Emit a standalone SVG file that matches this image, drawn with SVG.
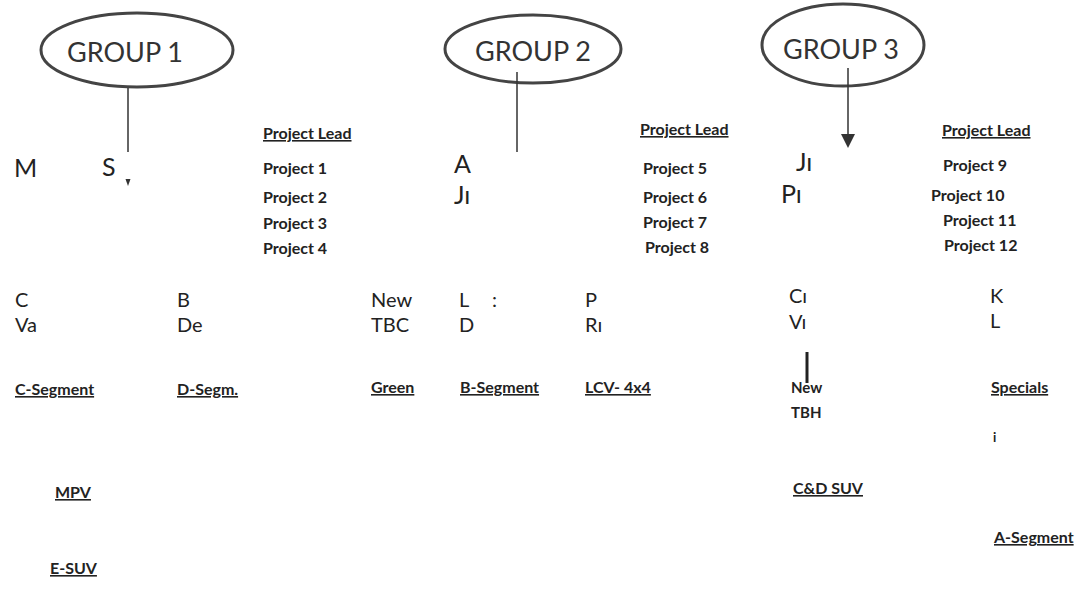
<svg xmlns="http://www.w3.org/2000/svg" width="1082" height="598" viewBox="0 0 1082 598">
<style>
.grp{font-family:Lato,"Liberation Sans",sans-serif;font-size:27px;fill:#333}
.oval{fill:none;stroke:#444;stroke-width:3}
.big{font-family:Lato,"Liberation Sans",sans-serif;font-size:25px;fill:#222}
.mid{font-family:Lato,"Liberation Sans",sans-serif;font-size:20px;fill:#222}
.pl{font-family:Lato,"Liberation Sans",sans-serif;font-size:16px;font-weight:bold;fill:#222}
.ul{text-decoration:underline}
.seg{font-family:Lato,"Liberation Sans",sans-serif;font-size:16px;font-weight:bold;fill:#222;text-decoration:underline}
.sm{font-family:Lato,"Liberation Sans",sans-serif;font-size:15px;font-weight:bold;fill:#222}
.ln{stroke:#333;stroke-width:1.5;fill:none}
</style>
<rect width="1082" height="598" fill="#fff"/>
<g id="group1">
<ellipse class="oval" cx="137" cy="50" rx="96" ry="37"/>
<text class="grp" x="67" y="62">GROUP 1</text>
</g>
<g id="group2">
<ellipse class="oval" cx="533" cy="49" rx="88" ry="34"/>
<text class="grp" x="475" y="61">GROUP 2</text>
</g>
<g id="group3">
<ellipse class="oval" cx="843" cy="45" rx="81" ry="41"/>
<text class="grp" x="783" y="59">GROUP 3</text>
</g>
<g id="connectors">
<line class="ln" x1="128" y1="88" x2="128" y2="152"/>
<polygon points="125.5,179 130.5,179 128,186" fill="#333"/>
<line class="ln" x1="517" y1="72" x2="517" y2="152"/>
<line class="ln" x1="848" y1="68" x2="848" y2="137"/>
<polygon points="841,134 855,134 848,148" fill="#333"/>
<line x1="807" y1="352" x2="807" y2="383" stroke="#222" stroke-width="3"/>
</g>
<g id="names1">
<text class="big" x="14" y="177">M</text>
<text class="big" x="102" y="176">S</text>
</g>
<g id="leads1">
<text class="pl ul" x="263" y="139">Project Lead</text>
<text class="pl" x="263" y="174">Project 1</text>
<text class="pl" x="263" y="203">Project 2</text>
<text class="pl" x="263" y="229">Project 3</text>
<text class="pl" x="263" y="254">Project 4</text>
</g>
<g id="names2">
<text class="big" x="454" y="173">A</text>
<text class="big" x="454" y="204">Jı</text>
</g>
<g id="leads2">
<text class="pl ul" x="640" y="135">Project Lead</text>
<text class="pl" x="643" y="174">Project 5</text>
<text class="pl" x="643" y="203">Project 6</text>
<text class="pl" x="643" y="228">Project 7</text>
<text class="pl" x="645" y="253">Project 8</text>
</g>
<g id="names3">
<text class="big" x="796" y="171">Jı</text>
<text class="big" x="781" y="203">Pı</text>
</g>
<g id="leads3">
<text class="pl ul" x="942" y="136">Project Lead</text>
<text class="pl" x="943" y="171">Project 9</text>
<text class="pl" x="931" y="201">Project 10</text>
<text class="pl" x="943" y="226">Project 11</text>
<text class="pl" x="944" y="251">Project 12</text>
</g>
<g id="row2">
<text class="mid" x="15" y="307">C</text>
<text class="mid" x="15" y="332">Va</text>
<text class="mid" x="177" y="307">B</text>
<text class="mid" x="177" y="332">De</text>
<text class="mid" x="371" y="307">New</text>
<text class="mid" x="371" y="332">TBC</text>
<text class="mid" x="459" y="307">L</text>
<text class="mid" x="492" y="307">:</text>
<text class="mid" x="459" y="332">D</text>
<text class="mid" x="585" y="307">P</text>
<text class="mid" x="585" y="332">Rı</text>
<text class="mid" x="789" y="303">Cı</text>
<text class="mid" x="789" y="329">Vı</text>
<text class="mid" x="990" y="303">K</text>
<text class="mid" x="990" y="328">L</text>
</g>
<g id="segments">
<text class="seg" x="15" y="395">C-Segment</text>
<text class="seg" x="177" y="395">D-Segm.</text>
<text class="seg" x="371" y="393">Green</text>
<text class="seg" x="460" y="393">B-Segment</text>
<text class="seg" x="585" y="393">LCV- 4x4</text>
<text class="sm" x="791" y="393">New</text>
<text class="sm" x="791" y="418">TBH</text>
<text class="seg" x="991" y="393">Specials</text>
<text class="sm" x="993" y="442" style="font-size:13px">i</text>
<text class="seg" x="55" y="498">MPV</text>
<text class="seg" x="50" y="574">E-SUV</text>
<text class="seg" x="793" y="494">C&amp;D SUV</text>
<text class="seg" x="994" y="543">A-Segment</text>
</g>
</svg>
